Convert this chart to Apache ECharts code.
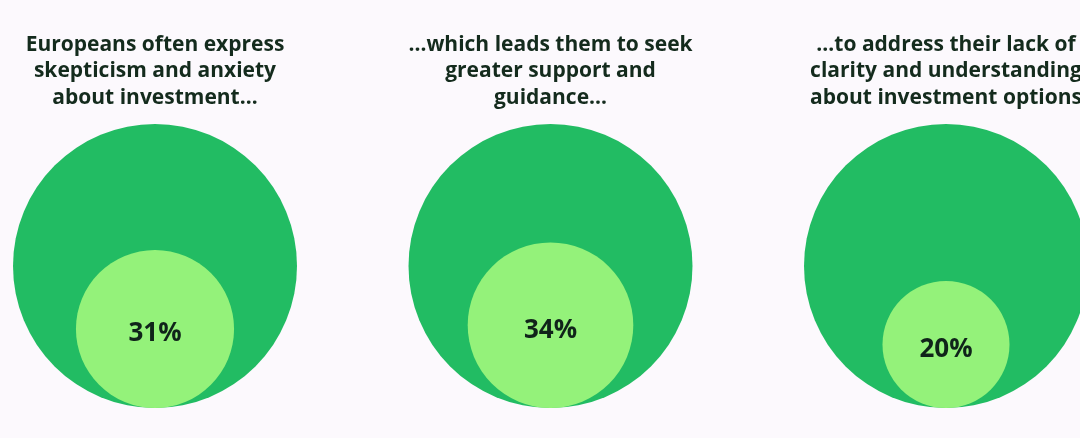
<!DOCTYPE html>
<html>
<head>
<meta charset="utf-8">
<script src="https://cdn.jsdelivr.net/npm/echarts@6/dist/echarts.min.js"></script>
<style>
html,body{margin:0;padding:0;background:#fcf9fd;}
#main{width:1080px;height:438px;}
</style>
</head>
<body>
<div id="main"></div>
<script>
var headings=[
	"Europeans often express\nskepticism and anxiety\nabout investment\u2026",
	"\u2026which leads them to seek\ngreater support and\nguidance\u2026",
	"\u2026to address their lack of\nclarity and understanding\nabout investment options"
];
var shares=[31,34,20];

var myChart=echarts.init(document.getElementById('main'));
var data=[];
for(var i=0;i<shares.length;i++){
	data.push([i,shares[i]]);
}
var option={
	backgroundColor:'#fcf9fd',
	grid:{left:155,right:134,top:124,bottom:30,outerBoundsMode:'none',containLabel:false},
	xAxis:{
		type:'category',
		position:'top',
		boundaryGap:false,
		data:headings,
		axisLine:{show:false},
		axisTick:{show:false},
		axisLabel:{
			interval:0,
			margin:13,
			fontFamily:'Open Sans',
			fontWeight:'bold',
			fontSize:21,
			lineHeight:26.5,
			color:'#142b1d'
		}
	},
	yAxis:{type:'value',min:0,max:1,show:false},
	series:[{
		type:'custom',
		clip:false,
		data:data,
		renderItem:function(params,api){
			var idx=api.value(0);
			var pct=api.value(1);
			var base=api.coord([idx,0]);
			var R=api.size([0,1])[1]/2;
			var d=Math.sqrt(pct/100);
			var r=R*d;
			return {
				type:'group',
				children:[{
					type:'circle',
					shape:{cx:base[0],cy:base[1]-R,r:R},
					style:{fill:'#22bc63'}
				},{
					type:'circle',
					shape:{cx:base[0],cy:base[1]-r,r:r},
					style:{fill:'#94f27a'}
				},{
					type:'text',
					x:base[0],
					y:base[1]-r+5,
					style:{
						text:pct+'%',
						fill:'#10241a',
						font:'bold 26px "Open Sans"',
						align:'center',
						verticalAlign:'middle'
					}
				}]
			};
		}
	}]
};
myChart.setOption(option);
</script>
</body>
</html>
